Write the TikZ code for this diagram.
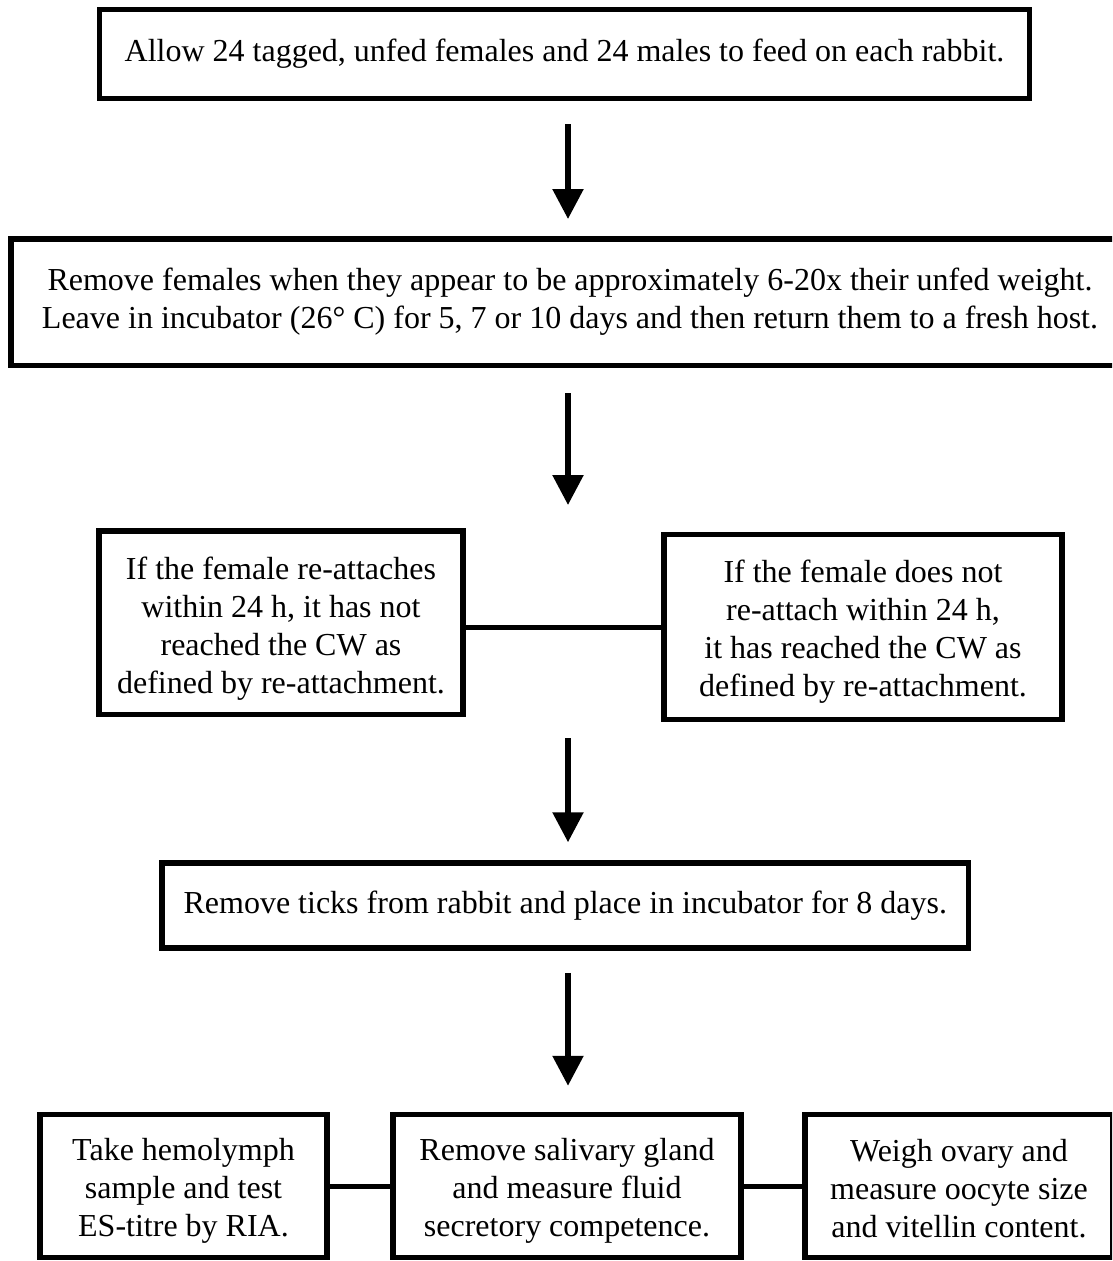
\documentclass[tikz,border=0pt]{standalone}
\usepackage{fontspec}
\setmainfont{Liberation Serif}
\usetikzlibrary{arrows.meta}
\begin{document}
\begin{tikzpicture}[x=1pt,y=-1pt,
  box/.style={draw, line width=5.5pt, align=center, inner sep=0pt,
    font=\fontsize{32}{38}\selectfont},
  txt/.style={align=center, inner sep=0pt, font=\fontsize{32}{38}\selectfont},
  arr/.style={line width=5.5pt, -{Triangle[length=30pt,width=30pt]}},
  conn/.style={line width=5pt}]
\useasboundingbox (0,0) rectangle (1112,1261);
\clip (0,0) rectangle (1112,1261);
\fill[white] (0,0) rectangle (1112,1261);

\node[box, minimum width=930pt, minimum height=89pt] (b1) at (564.5,54)
  {Allow 24 tagged, unfed females and 24 males to feed on each rabbit.};
\node[box, minimum width=1118pt, minimum height=126.5pt] (b2) at (570,302)
  {Remove females when they appear to be approximately 6-20x their unfed weight.\\
   Leave in incubator (26° C) for 5, 7 or 10 days and then return them to a fresh host.};
\node[box, minimum width=364pt, minimum height=183.5pt] (b3a) at (281,622.75) {};
\node[txt] (b3at) at ([yshift=-5.5pt]b3a.center)
  {If the female re-attaches\\within 24 h, it has not\\reached the CW as\\defined by re-attachment.};
\node[box, minimum width=398pt, minimum height=185pt] (b3b) at (863,627) {};
\node[txt] (b3bt) at ([yshift=-5pt]b3b.center)
  {If the female does not\\re-attach within 24 h,\\it has reached the CW as\\defined by re-attachment.};
\node[box, minimum width=806.5pt, minimum height=85pt] (b4) at (565.25,905.5)
  {Remove ticks from rabbit and place in incubator for 8 days.};
\node[box, minimum width=287pt, minimum height=143pt] (b5a) at (183.5,1186) {};
\node[txt] (b5at) at ([yshift=-5pt]b5a.center)
  {Take hemolymph\\sample and test\\ES-titre by RIA.};
\node[box, minimum width=348pt, minimum height=143pt] (b5b) at (567,1186) {};
\node[txt] (b5bt) at ([yshift=-5pt]b5b.center)
  {Remove salivary gland\\and measure fluid\\secretory competence.};
\node[box, minimum width=308pt, minimum height=143pt] (b5c) at (959,1186) {};
\node[txt] (b5ct) at ([yshift=-3pt]b5c.center)
  {Weigh ovary and\\measure oocyte size\\and vitellin content.};

\coordinate (ax) at (568,0);
\coordinate (t2) at (568,505);
\coordinate (s3) at (568,738);

\draw[arr, shorten <=22.75pt, shorten >=17pt] (b1.south -| ax) -- (b2.north -| ax);
\draw[arr, shorten <=25pt] (b2.south -| ax) -- (t2);
\draw[arr, shorten >=18pt] (s3) -- (b4.north -| ax);
\draw[arr, shorten <=22pt, shorten >=26pt] (b4.south -| ax) -- (b5b.north -| ax);

\draw[conn] (b3a.east |- b3b.west) -- (b3b.west);
\draw[conn] (b5a.east) -- (b5b.west);
\draw[conn] (b5b.east) -- (b5c.west);
\end{tikzpicture}
\end{document}
